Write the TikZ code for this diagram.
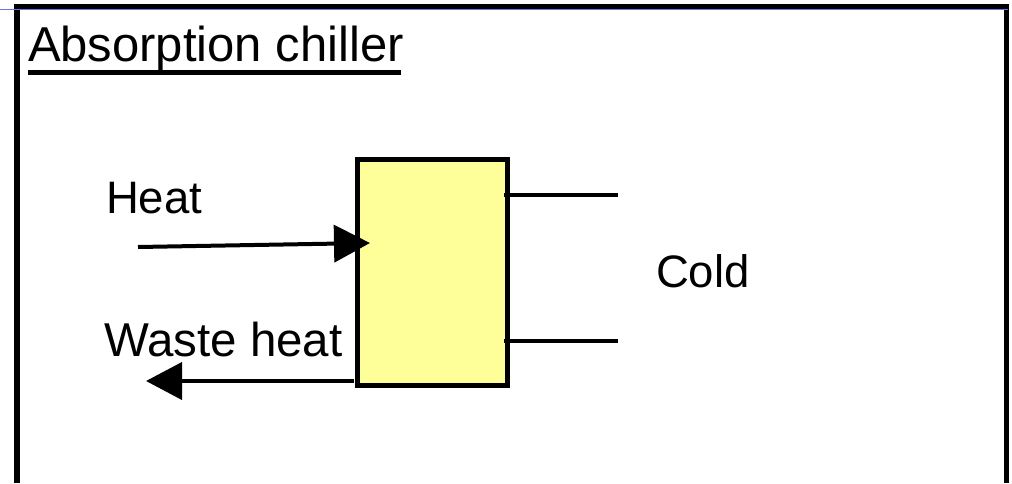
\documentclass[tikz,border=0pt]{standalone}
\usepackage{fontspec}
\setmainfont{Liberation Sans}
\usetikzlibrary{arrows.meta}
\definecolor{boxyellow}{RGB}{255,255,153}
\definecolor{topblue}{RGB}{100,120,225}
\begin{document}
\begin{tikzpicture}[x=1pt,y=-1pt,
  lbl/.style={anchor=base west, inner sep=0pt, outer sep=0pt, font=\fontsize{47}{56}\selectfont},
  frameline/.style={line width=5.5pt},
  flow/.style={line width=4pt},
  flowarrow/.style={line width=4pt, -{Triangle[length=36pt,width=37pt]}},
  chiller/.style={draw, line width=5pt, fill=boxyellow, minimum width=150.5pt, minimum height=226pt, inner sep=0pt}
]
\useasboundingbox (0,0) rectangle (1012,483);
% frame
\draw[frameline] (17,483) -- (17,6.5) -- (1006.5,6.5) -- (1006.5,483);
\draw[topblue, line width=1.2pt] (0,9.6) -- (1008,9.6);
% title
\node[lbl, font=\fontsize{49}{58}\selectfont] (title) at (28,61.5) {Absorption chiller};
\coordinate (ulA) at (28,72.5);
\coordinate (ulB) at (401,72.5);
\draw[line width=5pt] (ulA) -- (ulB);
% box
\node[chiller] (box) at (432.25,272.5) {};
% labels
\node[lbl, font=\fontsize{45.5}{55}\selectfont] (heat) at (106,213) {Heat};
\node[lbl, font=\fontsize{47.5}{56}\selectfont] (waste) at (104,356) {Waste heat};
\node[lbl, font=\fontsize{45.5}{55}\selectfont] (cold) at (656,287) {Cold};
% heat arrow
\coordinate (heatstart) at (138,247);
\coordinate (heatend) at (370,243);
\draw[flowarrow] (heatstart) -- (heatend);
% waste heat arrow
\coordinate (wastestart) at (354,381);
\coordinate (wasteend) at (146,381);
\draw[flowarrow] (wastestart) -- (wasteend);
% cold lines
\coordinate (c1a) at (504,195);
\coordinate (c1b) at (618,195);
\coordinate (c2a) at (504,341);
\coordinate (c2b) at (618,341);
\draw[flow] (c1a) -- (c1b);
\draw[flow] (c2a) -- (c2b);
\end{tikzpicture}
\end{document}
